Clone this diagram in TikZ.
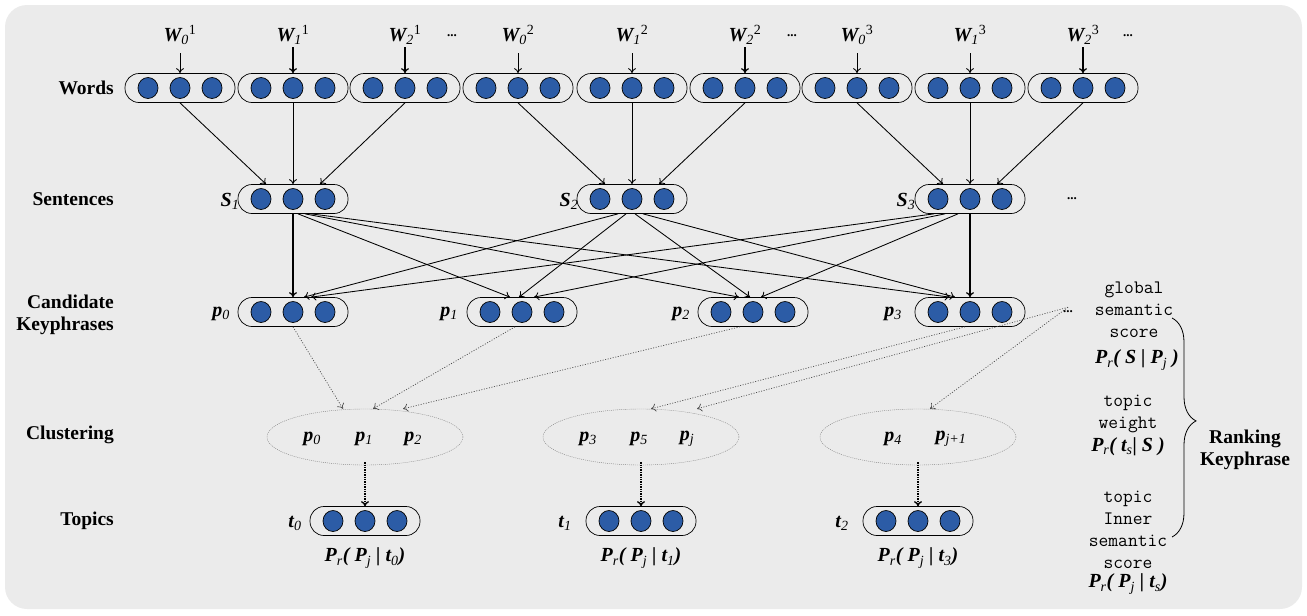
\documentclass[tikz,border=0pt]{standalone}
\usepackage{fontspec}
\setmainfont{Liberation Serif}
\usetikzlibrary{arrows.meta,shapes.geometric,decorations.pathreplacing}
\definecolor{panelgray}{RGB}{235,235,235}
\definecolor{dotblue}{RGB}{44,92,166}
\newcommand{\wlab}[2]{W\textsubscript{\mdseries#1}\textsuperscript{\mdseries\upshape#2}}
\newcommand{\sub}[2]{#1\textsubscript{\mdseries#2}}
\begin{document}
\begin{tikzpicture}
  [x=1pt,y=-1pt,every node/.style={inner sep=0pt},
   capsule/.style={draw,line width=0.7pt,rounded corners=14pt,minimum width=110pt,minimum height=29pt,
     path picture={\foreach \d in {-32,0,32}
       \draw[fill=dotblue,line width=0.7pt] ([xshift=\d pt]path picture bounding box.center) ellipse (10pt and 10.5pt);}},
   rowlabel/.style={font=\bfseries\fontsize{19.5}{22}\selectfont,align=right,anchor=east},
   mlabel/.style={font=\bfseries\itshape\fontsize{20}{22}\selectfont},
   cluster/.style={draw=gray,dash pattern=on 1pt off 1pt,ellipse,minimum width=196pt,minimum height=56pt},
   note/.style={font=\ttfamily\fontsize{19}{22}\selectfont,align=center},
   dots/.style={font=\bfseries\fontsize{13}{13}\selectfont},
   arr/.style={-{To[length=5pt,width=8pt]},line width=0.85pt},
   darr/.style={draw=black!70,dash pattern=on 1pt off 1.6pt,-{To[length=5pt,width=8pt]},line width=0.7pt},
   tarr/.style={densely dotted,-{To[length=5pt,width=8pt]},line width=1.4pt}]

  \useasboundingbox (0,0) rectangle (1307,616);
  \fill[panelgray,rounded corners=22pt] (5,5) rectangle (1302,609);

  \node[rowlabel] (lw) at (114,88) {Words};
  \node[rowlabel] (ls) at (114,199) {Sentences};
  \node[rowlabel] (lk) at (114,315) {Candidate\\Keyphrases};
  \node[rowlabel] (lc) at (114,435) {Clustering};
  \node[rowlabel] (lt) at (114,521) {Topics};

  \foreach \i/\x/\t in {1/180/{\wlab{0}{1}},2/293/{\wlab{1}{1}},3/405/{\wlab{2}{1}},
                        4/518/{\wlab{0}{2}},5/632/{\wlab{1}{2}},6/745/{\wlab{2}{2}},
                        7/857/{\wlab{0}{3}},8/970/{\wlab{1}{3}},9/1083/{\wlab{2}{3}}}
  {
    \node[capsule] (w\i) at (\x,88) {};
    \node[mlabel] (wl\i) at (\x,35) {\t};
  }
  \node[dots] (wd1) at (452,36) {...};
  \node[dots] (wd2) at (792,36) {...};
  \node[dots] (wd3) at (1128,36) {...};

  \foreach \i in {1,4,5,7,8}
    \draw[arr] ([yshift=20pt]w\i.north) -- (w\i.north);
  \foreach \i in {2,3,6,9}
    \draw[arr,line width=1.3pt] ([yshift=26pt]w\i.north) -- (w\i.north);

  \node[capsule] (s1) at (293,199) {};
  \node[capsule] (s2) at (632,199) {};
  \node[capsule] (s3) at (970,199) {};
  \node[mlabel] (sl1) at (230,201) {\sub{S}{1}};
  \node[mlabel] (sl2) at (569,201) {\sub{S}{2}};
  \node[mlabel] (sl3) at (906,201) {\sub{S}{3}};
  \node[dots] (sd) at (1072,199) {...};

  \foreach \w/\s/\d in {1/1/-27,2/1/0,3/1/27,4/2/-27,5/2/0,6/2/27,7/3/-27,8/3/0,9/3/27}
    \draw[arr] (w\w.south) -- ([xshift=\d pt]s\s.north);

  \node[capsule] (p0) at (293,312) {};
  \node[capsule] (p1) at (522,312) {};
  \node[capsule] (p2) at (753,312) {};
  \node[capsule] (p3) at (970,312) {};
  \node[mlabel] (pl0) at (221,314) {\sub{p}{0}};
  \node[mlabel] (pl1) at (449,314) {\sub{p}{1}};
  \node[mlabel] (pl2) at (681,314) {\sub{p}{2}};
  \node[mlabel] (pl3) at (893,314) {\sub{p}{3}};
  \node[dots] (kd) at (1068,312) {...};

  \foreach \s/\a/\p/\b in {1/5/1/-12,1/12/2/-14,1/18/3/-20,
                           2/-14/0/11,2/-6/1/-3,2/3/2/-3,2/11/3/-15,
                           3/-36/0/18,3/-25/1/12,3/-12/2/8}
    \draw[arr] ([xshift=\a pt]s\s.south) -- ([xshift=\b pt]p\p.north);
  \draw[arr,line width=1.3pt] (s1.south) -- (p0.north);
  \draw[arr,line width=1.3pt] (s3.south) -- (p3.north);

  \node[cluster] (c0) at (365,437) {};
  \node[cluster] (c1) at (641,437) {};
  \node[cluster] (c2) at (918,437) {};
  \node[mlabel] (cp0) at (312,439) {\sub{p}{0}};
  \node[mlabel] (cp1) at (364,439) {\sub{p}{1}};
  \node[mlabel] (cp2) at (413,439) {\sub{p}{2}};
  \node[mlabel] (cp3) at (588,439) {\sub{p}{3}};
  \node[mlabel] (cp5) at (639,439) {\sub{p}{5}};
  \node[mlabel] (cpj) at (687,439) {\sub{p}{j}};
  \node[mlabel] (cp4) at (893,439) {\sub{p}{4}};
  \node[mlabel] (cpk) at (951,439) {\sub{p}{j+1}};

  \draw[darr] ([xshift=0pt]p0.south) -- ([xshift=-22pt]c0.north);
  \draw[darr] ([xshift=-7pt]p1.south) -- ([xshift=8pt]c0.north);
  \draw[darr] ([xshift=-13pt]p2.south) -- ([xshift=38pt]c0.north);
  \draw[darr] ([xshift=-5pt]p3.south) -- ([xshift=10pt]c1.north);
  \draw[darr] ([yshift=6pt]kd.south) -- ([xshift=56pt]c1.north);
  \draw[darr] ([yshift=6pt]kd.south) -- ([xshift=12pt]c2.north);

  \node[capsule] (t0) at (365,521) {};
  \node[capsule] (t1) at (641,521) {};
  \node[capsule] (t2) at (918,521) {};
  \node[mlabel] (tl0) at (295,523) {\sub{t}{0}};
  \node[mlabel] (tl1) at (565,523) {\sub{t}{1}};
  \node[mlabel] (tl2) at (842,523) {\sub{t}{2}};
  \node[mlabel] (tp0) at (365,558) {\sub{P}{r}( \sub{P}{j} | \sub{t}{0})};
  \node[mlabel] (tp1) at (641,558) {\sub{P}{r}( \sub{P}{j} | \sub{t}{1})};
  \node[mlabel] (tp2) at (918,558) {\sub{P}{r}( \sub{P}{j} | \sub{t}{3})};

  \foreach \i in {0,1,2}
    \draw[tarr] ([yshift=3pt]c\i.south) -- (t\i.north);

  \node[note] (gs) at (1134,310) {global\\semantic\\score};
  \node[mlabel] (rs) at (1137,360) {\sub{P}{r}( S | \sub{P}{j} )};
  \node[note] (tw) at (1128,414) {topic\\weight};
  \node[mlabel] (rt) at (1128,447) {\sub{P}{r}( \sub{t}{s}| S )};
  \node[note] (ti) at (1128,530) {topic\\Inner\\semantic\\score};
  \node[mlabel] (rp) at (1128,584) {\sub{P}{r}( \sub{P}{j} | \sub{t}{s})};

  \coordinate (bt) at (1172,318);
  \coordinate (bb) at (1172,537);
  \draw[line width=0.8pt,decorate,decoration={brace,amplitude=24pt,aspect=0.47}] (bt) -- (bb);
  \node[rowlabel,anchor=center,align=center] (rk) at (1245,450) {Ranking\\Keyphrase};

\end{tikzpicture}
\end{document}
